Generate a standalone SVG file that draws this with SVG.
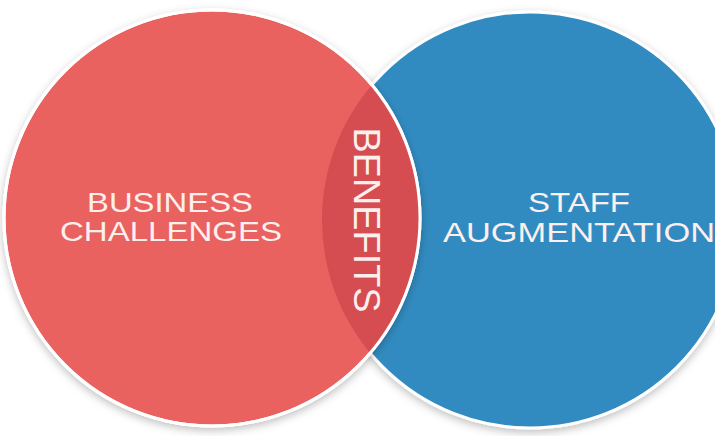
<svg xmlns="http://www.w3.org/2000/svg" width="715" height="436" viewBox="0 0 715 436">
<defs>
<filter id="sh" x="-10%" y="-10%" width="120%" height="120%">
<feDropShadow dx="0" dy="3" stdDeviation="4" flood-color="#000" flood-opacity="0.25"/>
</filter>
<clipPath id="redClip"><circle cx="212" cy="218" r="208"/></clipPath>
</defs>
<style>
.lbl{font-family:"Liberation Sans","DejaVu Sans",sans-serif;fill:#fcefee;font-size:28px;text-anchor:middle}
.ring{stroke:#ffffff;stroke-width:3}
</style>
<rect width="715" height="436" fill="#ffffff"/>
<g id="staff-augmentation">
<circle cx="530" cy="220" r="208" fill="#328bc0" class="ring" filter="url(#sh)"/>
<text class="lbl" x="579" y="212" textLength="102" lengthAdjust="spacingAndGlyphs">STAFF</text>
<text class="lbl" x="579" y="242" textLength="272" lengthAdjust="spacingAndGlyphs">AUGMENTATION</text>
</g>
<g id="business-challenges">
<circle cx="212" cy="218" r="208" fill="#e9625e" class="ring" filter="url(#sh)"/>
<text class="lbl" x="170" y="212" textLength="166" lengthAdjust="spacingAndGlyphs">BUSINESS</text>
<text class="lbl" x="171" y="241" textLength="222" lengthAdjust="spacingAndGlyphs">CHALLENGES</text>
</g>
<g id="benefits">
<circle cx="530" cy="220" r="208" fill="#d54c51" clip-path="url(#redClip)"/>
<circle cx="212" cy="218" r="208" fill="none" stroke="#ffffff" stroke-width="3"/>
<text class="lbl" transform="translate(354,220) rotate(90)" style="font-size:36px" textLength="185" lengthAdjust="spacingAndGlyphs">BENEFITS</text>
</g>
<g id="connectors"></g>
</svg>
